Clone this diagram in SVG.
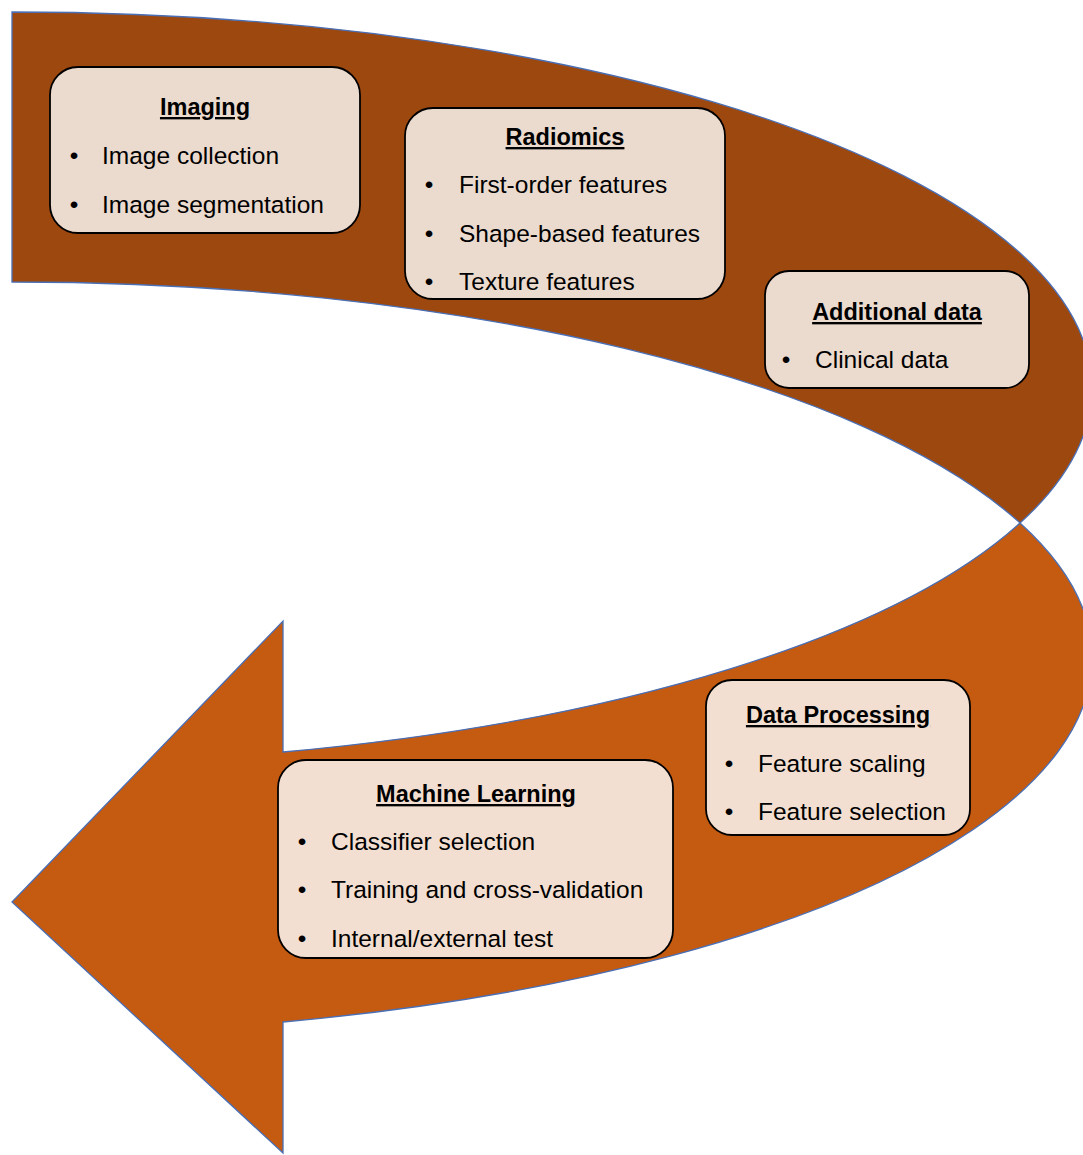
<svg xmlns="http://www.w3.org/2000/svg" width="1083" height="1155" viewBox="0 0 1083 1155">
  <style>
    .band { stroke: #4A6FB5; stroke-width: 1.3; stroke-linejoin: miter; }
    .back { fill: #9D480F; }
    .front { fill: #C55A11; }
    .box { stroke: #000; stroke-width: 1.8; }
    .boxTop { fill: #EBDACE; }
    .boxBot { fill: #F3DFD1; }
    .title { font-family: "Liberation Sans", Arial, sans-serif; font-weight: bold; font-size: 23.5px; fill: #000; text-anchor: middle; text-decoration: underline; }
    .item { font-family: "Liberation Sans", Arial, sans-serif; font-size: 24.5px; fill: #000; }
    .bul { font-family: "Liberation Sans", Arial, sans-serif; font-size: 24.5px; fill: #000; text-anchor: middle; }
  </style>
  <rect width="1083" height="1155" fill="#FFFFFF"/>
  <g id="connectors">
    <path id="arrow-back" class="band back" d="M 12 12 A 1080 376 0 0 1 1020 523 A 1080 376 0 0 0 12 282 Z"/>
    <path id="arrow-front" class="band front" d="M 283 752 A 1080 376 0 0 0 1020 523 A 1080 376 0 0 1 283 1022 L 283 1153 L 12 902 L 283 621 Z"/>
  </g>
  <g id="imaging">
    <rect class="box boxTop" x="50" y="67" width="310" height="166" rx="28" ry="28"/>
    <text class="title" x="205" y="115">Imaging</text>
    <text class="bul" x="74" y="164">•</text>
    <text class="item" x="102" y="164">Image collection</text>
    <text class="bul" x="74" y="213">•</text>
    <text class="item" x="102" y="213">Image segmentation</text>
  </g>
  <g id="radiomics">
    <rect class="box boxTop" x="405" y="108" width="320" height="191" rx="28" ry="28"/>
    <text class="title" x="565" y="145">Radiomics</text>
    <text class="bul" x="429" y="193">•</text>
    <text class="item" x="459" y="193">First-order features</text>
    <text class="bul" x="429" y="242">•</text>
    <text class="item" x="459" y="242">Shape-based features</text>
    <text class="bul" x="429" y="290">•</text>
    <text class="item" x="459" y="290">Texture features</text>
  </g>
  <g id="additional-data">
    <rect class="box boxTop" x="765" y="271" width="264" height="117" rx="24" ry="24"/>
    <text class="title" x="897" y="320">Additional data</text>
    <text class="bul" x="786" y="368">•</text>
    <text class="item" x="815" y="368">Clinical data</text>
  </g>
  <g id="data-processing">
    <rect class="box boxBot" x="706" y="680" width="264" height="155" rx="26" ry="26"/>
    <text class="title" x="838" y="723">Data Processing</text>
    <text class="bul" x="729" y="772">•</text>
    <text class="item" x="758" y="772">Feature scaling</text>
    <text class="bul" x="729" y="820">•</text>
    <text class="item" x="758" y="820">Feature selection</text>
  </g>
  <g id="machine-learning">
    <rect class="box boxBot" x="278" y="760" width="395" height="198" rx="28" ry="28"/>
    <text class="title" x="476" y="802">Machine Learning</text>
    <text class="bul" x="302" y="850">•</text>
    <text class="item" x="331" y="850">Classifier selection</text>
    <text class="bul" x="302" y="898">•</text>
    <text class="item" x="331" y="898">Training and cross-validation</text>
    <text class="bul" x="302" y="947">•</text>
    <text class="item" x="331" y="947">Internal/external test</text>
  </g>
</svg>
